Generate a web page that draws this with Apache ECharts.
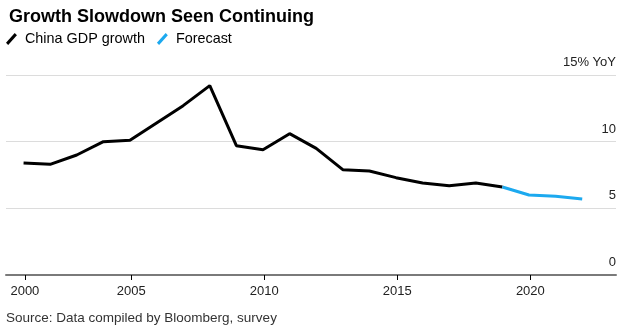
<!DOCTYPE html>
<html>
<head>
<meta charset="utf-8">
<script src="https://cdn.jsdelivr.net/npm/echarts@6/dist/echarts.min.js"></script>
<style>
html,body{margin:0;padding:0;background:#fff;}
#c{width:628px;height:329px;}
</style>
</head>
<body>
<div id="c"></div>
<script>
// Data
const years = [2000,2001,2002,2003,2004,2005,2006,2007,2008,2009,2010,2011,2012,2013,2014,2015,2016,2017,2018];
const gdpGrowth = [8.4,8.3,9.0,10.0,10.1,11.4,12.7,14.2,9.7,9.4,10.6,9.5,7.9,7.8,7.3,6.9,6.7,6.9,6.6];
const forecastYears = [2018,2019,2020,2021];
const forecastValues = [6.6,6.0,5.9,5.7];
// Ticks sit at year boundaries (annual data plotted at period end)
const tickAt = [2000.05,2004.05,2009.05,2014.05,2019.05];
const tickLabels = ['2000','2005','2010','2015','2020'];

const font = 'Liberation Sans, Arial, sans-serif';
const chart = echarts.init(document.getElementById('c'), null, {renderer:'canvas'});
chart.setOption({
  animation:false,
  backgroundColor:'#fff',
  title:{
    text:'Growth Slowdown Seen Continuing',
    left:4, top:3,
    textStyle:{fontFamily:font,fontWeight:'bold',fontSize:18,color:'#000'}
  },
  legend:{
    left:6, top:32, padding:0,
    itemWidth:11, itemHeight:12, itemGap:12,
    textStyle:{fontFamily:font,fontSize:14.4,color:'#000',padding:[0,0,0,3]},
    data:[
      {name:'China GDP growth', icon:'path://M0,9 L8,0 L10,2 L2,11 Z', itemStyle:{color:'#000'}},
      {name:'Forecast', icon:'path://M0,9 L8,0 L10,2 L2,11 Z', itemStyle:{color:'#1ca9ef'}}
    ]
  },
  graphic:[{
    type:'text', left:6, top:311,
    style:{text:'Source: Data compiled by Bloomberg, survey', fontFamily:font, fontSize:13.5, fill:'#333'}
  }],
  grid:{left:6, right:12, top:75, bottom:54},
  xAxis:{
    type:'value',
    min:1999.34, max:2022.27,
    axisLine:{show:true,lineStyle:{color:'#7a7a7a',width:2}},
    axisTick:{show:true,length:5,customValues:tickAt,lineStyle:{color:'#000',width:1}},
    splitLine:{show:false},
    axisLabel:{
      customValues:tickAt, margin:10,
      fontFamily:font,fontSize:13,color:'#222',
      formatter:function(v){const i=tickAt.indexOf(v);return i>=0?tickLabels[i]:'';}
    }
  },
  yAxis:{
    type:'value', position:'right',
    min:0, max:15, interval:5,
    axisLine:{show:false}, axisTick:{show:false},
    splitLine:{lineStyle:{color:'#dcdcdc',width:1}},
    axisLabel:{
      inside:true, margin:0,
      verticalAlign:'bottom', padding:[0,0,6,0],
      fontFamily:font,fontSize:13,color:'#222',
      formatter:function(v){return v===15?'15% YoY':String(v);}
    }
  },
  series:[
    {
      name:'China GDP growth', type:'line', showSymbol:false, symbol:'none',
      lineStyle:{color:'#000',width:3}, itemStyle:{color:'#000'},
      data:years.map((y,i)=>[y,gdpGrowth[i]])
    },
    {
      name:'Forecast', type:'line', showSymbol:false, symbol:'none',
      lineStyle:{color:'#1ca9ef',width:3}, itemStyle:{color:'#1ca9ef'},
      data:forecastYears.map((y,i)=>[y,forecastValues[i]])
    }
  ]
});
</script>
</body>
</html>
